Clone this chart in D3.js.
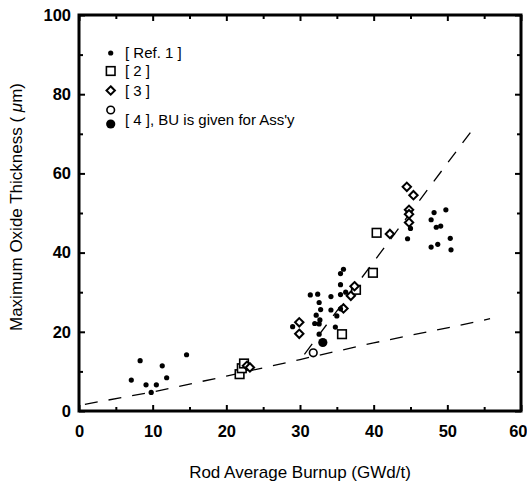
<!DOCTYPE html>
<html>
<head>
<meta charset="utf-8">
<script src="https://cdn.jsdelivr.net/npm/d3@7"></script>
<style>
  body { margin: 0; background: #fff; }
  svg { display: block; font-family: "Liberation Sans", Arial, Helvetica, sans-serif; }
</style>
</head>
<body>
<div id="chart"></div>
<script>
// values: [burnup GWd/t, oxide thickness um]
const ref1 = [
  [7.1, 7.8], [8.3, 12.7], [9.1, 6.6], [9.8, 4.7], [10.5, 6.6], [11.3, 11.4], [11.9, 8.4], [14.6, 14.2],
  [29.0, 21.3], [31.4, 29.3], [32.4, 29.5], [32.6, 27.4], [34.2, 28.9], [35.5, 31.9], [35.5, 34.7],
  [35.9, 35.8], [35.5, 29.4], [36.2, 30.0], [32.8, 25.6], [34.2, 25.5], [32.2, 24.2], [35.0, 24.0],
  [32.0, 22.1], [32.6, 22.0], [32.7, 23.0], [34.8, 21.2], [32.6, 19.4], [35.5, 25.8],
  [45.0, 46.1], [44.6, 43.5], [47.8, 48.3], [48.2, 50.1], [48.5, 46.4], [49.1, 46.7], [49.8, 50.8],
  [47.8, 41.4], [48.7, 42.1], [50.4, 43.6], [50.5, 40.7]
];
const ref2 = [[21.8, 9.3], [22.1, 10.8], [22.4, 12.0], [35.7, 19.4], [37.6, 30.6], [39.9, 34.9], [40.4, 45.0]];
const ref3 = [
  [22.8, 11.4], [23.2, 11.0], [29.9, 22.4], [29.9, 19.5], [35.9, 25.9], [36.9, 29.1], [37.4, 31.5],
  [42.2, 44.7], [44.5, 56.6], [45.4, 54.5], [44.8, 50.8], [44.8, 49.7], [44.8, 47.6]
];
const ref4Open = [[31.8, 14.7]];
const ref4Filled = [[33.1, 17.3]];
const lowerFit = [[0.8, 1.7], [10, 4.8], [20, 8.8], [30, 13.0], [40, 17.2], [50, 21.0], [55.8, 23.3]];
const upperFit = [[30.6, 14.3], [54.0, 72.5]];
const xTicks = [0, 10, 20, 30, 40, 50, 60];
const yTicks = [0, 20, 40, 60, 80, 100];
const xMinor = [5, 15, 25, 35, 45, 55];
const yMinor = [10, 30, 50, 70, 90];

const width = 527, height = 484;
const x = d3.scaleLinear().domain([0, 60]).range([79, 521]);
const y = d3.scaleLinear().domain([0, 100]).range([411, 15]);

const svg = d3.select('#chart').append('svg')
    .attr('width', width)
    .attr('height', height);

// fit lines
const line = d3.line().x(d => x(d[0])).y(d => y(d[1]));
[lowerFit, upperFit].forEach(pts => {
    svg.append('path')
        .attr('d', line(pts))
        .attr('fill', 'none')
        .attr('stroke', '#000')
        .attr('stroke-width', 1.3)
        .attr('stroke-dasharray', '13,11');
});

// ticks (inward on all four sides)
function ticks(axis, vals, size, tr, labels) {
    const g = svg.append('g').attr('transform', tr)
        .call(axis.tickValues(vals).tickSize(size).tickSizeOuter(0)
            .tickFormat(labels ? d3.format('d') : ''));
    g.select('.domain').remove();
    g.selectAll('line').attr('stroke-width', 2);
    g.selectAll('text').attr('font-size', 16.5).attr('font-weight', 'bold').attr('fill', '#000');
    return g;
}
const xl = ticks(d3.axisBottom(x), xTicks, -6, 'translate(0,411)', true);
xl.selectAll('text').attr('dy', null).attr('y', 26);
// last label sits at the window edge; keep it inside
xl.selectAll('text').filter(d => d === 60).attr('text-anchor', 'end').attr('dx', 6);
ticks(d3.axisBottom(x), xMinor, -4, 'translate(0,411)', false);
ticks(d3.axisTop(x), xTicks, -6, 'translate(0,15)', false);
ticks(d3.axisTop(x), xMinor, -4, 'translate(0,15)', false);
ticks(d3.axisLeft(y), yTicks, -6, 'translate(79,0)', true)
    .selectAll('text').attr('x', -8);
ticks(d3.axisLeft(y), yMinor, -4, 'translate(79,0)', false);
ticks(d3.axisRight(y), yTicks, -6, 'translate(521,0)', false);
ticks(d3.axisRight(y), yMinor, -4, 'translate(521,0)', false);

// frame
svg.append('rect')
    .attr('x', x(0)).attr('y', y(100))
    .attr('width', x(60) - x(0)).attr('height', y(0) - y(100))
    .attr('fill', 'none').attr('stroke', '#000').attr('stroke-width', 3);

// markers
const sym = {
    dot: g => g.append('circle').attr('r', 2.6).attr('fill', '#000'),
    square: g => g.append('rect').attr('x', -4.3).attr('y', -4.3).attr('width', 8.6).attr('height', 8.6)
        .attr('fill', '#fff').attr('stroke', '#000').attr('stroke-width', 1.6),
    diamond: g => g.append('path').attr('d', 'M0,-4.2L4.2,0L0,4.2L-4.2,0Z')
        .attr('fill', '#fff').attr('stroke', '#000').attr('stroke-width', 2),
    open: g => g.append('circle').attr('r', 3.8).attr('fill', '#fff').attr('stroke', '#000').attr('stroke-width', 1.6),
    filled: g => g.append('circle').attr('r', 4.6).attr('fill', '#000')
};
function plot(data, kind) {
    svg.append('g').selectAll('g').data(data).join('g')
        .attr('transform', d => `translate(${x(d[0])},${y(d[1])})`)
        .each(function () { sym[kind](d3.select(this)); });
}
plot(ref2, 'square');
plot(ref3, 'diamond');
plot(ref4Open, 'open');
plot(ref1, 'dot');
plot(ref4Filled, 'filled');

// legend
const legend = [
    { kind: 'dot', my: 53, label: '[ Ref. 1 ]', ty: 53 },
    { kind: 'square', my: 71, label: '[ 2 ]', ty: 71 },
    { kind: 'diamond', my: 90.5, label: '[ 3 ]', ty: 90.5 },
    { kind: 'open', my: 110, label: null },
    { kind: 'filled', my: 124, label: '[ 4 ], BU is given for Ass\'y', ty: 120 }
];
legend.forEach(l => {
    sym[l.kind](svg.append('g').attr('transform', `translate(110.7,${l.my})`));
    if (l.label) {
        svg.append('text').attr('x', 125).attr('y', l.ty).attr('dy', '0.36em')
            .attr('font-size', 15).text(l.label);
    }
});

// axis titles
svg.append('text')
    .attr('x', 300).attr('y', 478)
    .attr('text-anchor', 'middle').attr('font-size', 17)
    .text('Rod Average Burnup (GWd/t)');
const yt = svg.append('text')
    .attr('transform', 'translate(22,207) rotate(-90)')
    .attr('text-anchor', 'middle').attr('font-size', 17);
yt.append('tspan').text('Maximum Oxide Thickness ( ');
yt.append('tspan').attr('font-style', 'italic').text('\u03bc');
yt.append('tspan').text('m)');
</script>
</body>
</html>
